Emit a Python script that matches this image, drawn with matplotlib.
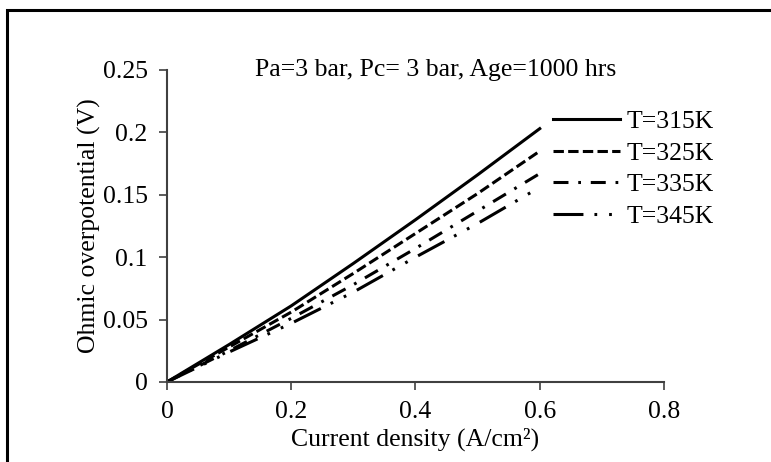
# Ohmic overpotential vs current density at four cell temperatures
import numpy as np
import matplotlib
matplotlib.use('Agg')
import matplotlib.pyplot as plt
from matplotlib.patches import Rectangle

# data
current_density = [0.0, 0.1, 0.2, 0.3, 0.4, 0.5, 0.6]
eta_315 = [0.0, 0.030, 0.061, 0.095, 0.130, 0.166, 0.203]
eta_325 = [0.0, 0.028, 0.056, 0.087, 0.119, 0.151, 0.185]
eta_335 = [0.0, 0.025, 0.051, 0.078, 0.107, 0.137, 0.167]
eta_345 = [0.0, 0.024, 0.047, 0.072, 0.100, 0.127, 0.156]
labels = ['T=315K', 'T=325K', 'T=335K', 'T=345K']
x_ticks = [0, 0.2, 0.4, 0.6, 0.8]
x_tick_labels = ['0', '0.2', '0.4', '0.6', '0.8']
y_ticks = [0, 0.05, 0.1, 0.15, 0.2, 0.25]
y_tick_labels = ['0', '0.05', '0.1', '0.15', '0.2', '0.25']
title_text = 'Pa=3 bar, Pc= 3 bar, Age=1000 hrs'

plt.rcParams['font.family'] = ['Liberation Serif', 'DejaVu Serif']
fs = 18.5

fig = plt.figure(figsize=(7.71, 4.62), dpi=100)
ax = fig.add_axes([0.2166, 0.1732, 0.8612 - 0.2166, 0.8485 - 0.1732])

lw = 2.2
styles = ['-', (0, (3.4, 1.4)), (0, (4.9, 3.2, 0.9, 3.2)),
          (0, (9.8, 3.6, 0.9, 3.9, 0.9, 3.9))]
series = [eta_315, eta_325, eta_335, eta_345]
handles = []
for vals, ls, lab in zip(series, styles, labels):
    h, = ax.plot(current_density, vals, color='black', linestyle=ls,
                 linewidth=lw, label=lab)
    handles.append(h)

ax.set_xlim(0, 0.8)
ax.set_ylim(0, 0.25)
ax.set_xticks(x_ticks)
ax.set_xticklabels(x_tick_labels, fontsize=fs)
ax.set_yticks(y_ticks)
ax.set_yticklabels(y_tick_labels, fontsize=fs)
ax.tick_params(direction='out', length=6, width=1.2, color='#404040',
               pad=8)

for side in ['top', 'right']:
    ax.spines[side].set_visible(False)
for side in ['left', 'bottom']:
    ax.spines[side].set_color('#404040')
    ax.spines[side].set_linewidth(1.5)

ax.set_xlabel('Current density (A/cm²)', fontsize=fs, labelpad=3)
ax.set_ylabel('Ohmic overpotential (V)', fontsize=fs, labelpad=1)

ax.text(0.54, 1.0, title_text, transform=ax.transAxes, fontsize=fs,
        ha='center', va='center')

ax.legend(handles=handles, loc='upper left',
          bbox_to_anchor=(553 / 771, 1 - 110 / 462),
          bbox_transform=fig.transFigure, frameon=False, fontsize=fs,
          handlelength=2.6, handletextpad=0.25, labelspacing=0.34,
          borderpad=0, borderaxespad=0)

# chart-area border, open to the right and bottom like the crop
fig.patches.append(Rectangle((7 / 771, -0.1), 1.2, 1 - 10 / 462 + 0.1,
                             transform=fig.transFigure, fill=False,
                             edgecolor='black', linewidth=2.2))

plt.savefig('out.png', dpi=100)
plt.close('all')
